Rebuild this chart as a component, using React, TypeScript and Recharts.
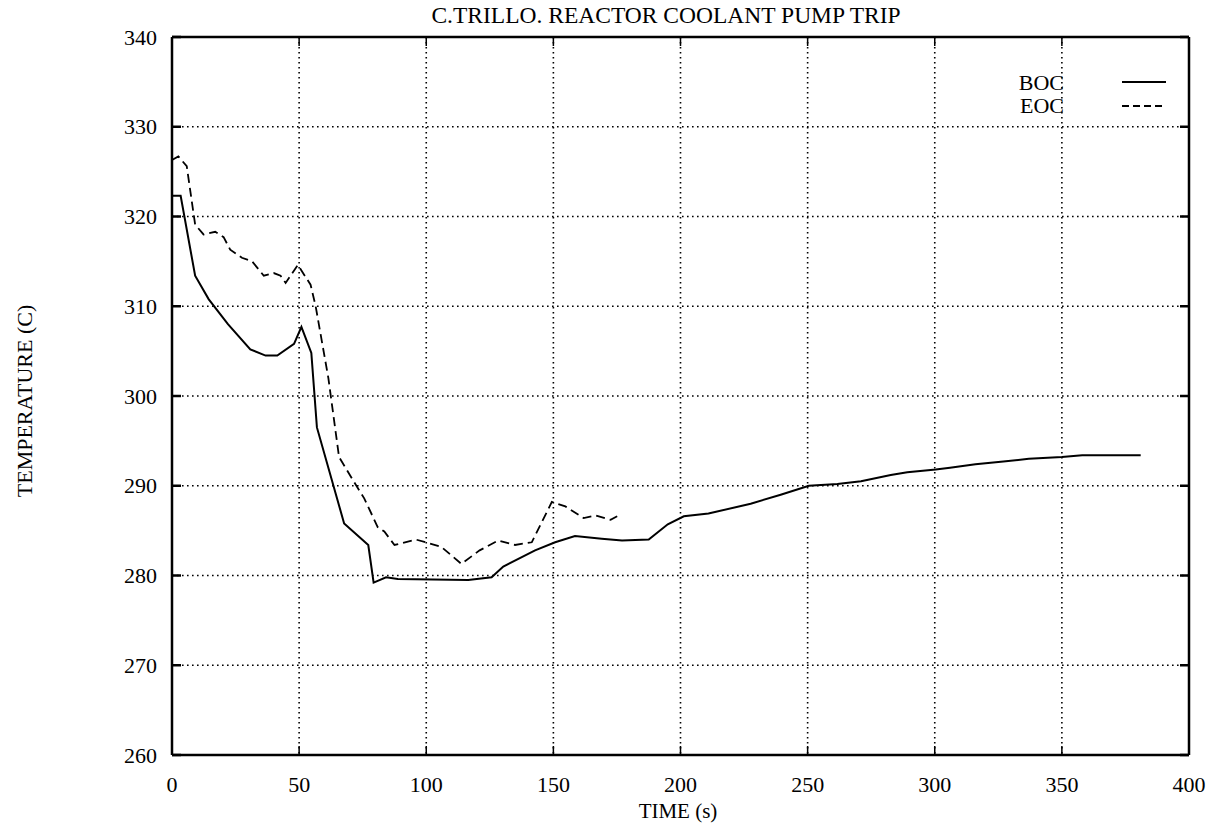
import React from 'react';
import { LineChart, Line, XAxis, YAxis, CartesianGrid } from 'recharts';

const bocTime = [0, 3.4, 9.1, 14.4, 22, 30.8, 36.8, 41.4, 48, 50.9, 54.8, 57, 67.7, 77.2, 79.3, 84.2, 88.8, 116.5, 125.7, 130.3, 142.8, 150.7, 158.5, 169, 177, 187.5, 195, 201.3, 211, 227.6, 239.4, 250.5, 261.7, 271, 282.7, 289.2, 300.4, 306, 316, 327, 337, 350, 358, 381];
const bocTemp = [322.3, 322.3, 313.4, 310.8, 308, 305.2, 304.5, 304.5, 305.8, 307.7, 304.8, 296.5, 285.8, 283.4, 279.2, 279.8, 279.6, 279.5, 279.8, 281.0, 282.8, 283.7, 284.4, 284.1, 283.9, 284.0, 285.7, 286.6, 286.9, 288.0, 289.0, 290.0, 290.2, 290.5, 291.2, 291.5, 291.8, 292.0, 292.4, 292.7, 293.0, 293.2, 293.4, 293.4];

const eocTime = [0, 2.5, 5.8, 9.1, 12.4, 17, 20.3, 22.9, 27.5, 31.5, 36.1, 40, 42.7, 44.7, 49.5, 54.5, 56.5, 61.5, 65.7, 71, 75.6, 80.9, 83.5, 87.5, 96, 105.9, 113.8, 121, 128.3, 134.9, 141.5, 149.4, 154.7, 161.9, 166.5, 172.5, 175.1];
const eocTemp = [326.3, 326.7, 325.6, 319.1, 318.0, 318.3, 317.7, 316.3, 315.4, 315.0, 313.4, 313.7, 313.4, 312.6, 314.6, 312.4, 310.0, 302.0, 293.2, 290.7, 288.6, 285.4, 284.9, 283.4, 284.0, 283.2, 281.3, 282.8, 283.9, 283.4, 283.7, 288.2, 287.7, 286.4, 286.7, 286.2, 286.6];

const xTicks = [0, 50, 100, 150, 200, 250, 300, 350, 400];
const yTicks = [260, 270, 280, 290, 300, 310, 320, 330, 340];

const seriesNames = ['BOC', 'EOC'];
const titleText = 'C.TRILLO. REACTOR COOLANT PUMP TRIP';
const xLabel = 'TIME (s)';
const yLabel = 'TEMPERATURE (C)';

const bocData = bocTime.map((t, i) => ({ time: t, temp: bocTemp[i] }));
const eocData = eocTime.map((t, i) => ({ time: t, temp: eocTemp[i] }));

const FONT = '"Liberation Serif", "Times New Roman", serif';
const TICK_FS = 22;

const LeftTick = (props: any) => {
  const { x, y, payload } = props;
  return (
    <g>
      <line x1={x} x2={x + 9} y1={y} y2={y} stroke="#000" strokeWidth={2.5} />
      <text x={x - 15} y={y} textAnchor="end" dominantBaseline="central" fontFamily={FONT} fontSize={TICK_FS} fill="#000">
        {payload.value}
      </text>
    </g>
  );
};

const RightTick = (props: any) => {
  const { x, y } = props;
  return <line x1={x} x2={x - 9} y1={y} y2={y} stroke="#000" strokeWidth={2.5} />;
};

const BottomTick = (props: any) => {
  const { x, y, payload } = props;
  return (
    <g>
      <line x1={x} x2={x} y1={y} y2={y - 9} stroke="#000" strokeWidth={1.5} />
      <text x={x} y={y + 29} textAnchor="middle" dominantBaseline="central" fontFamily={FONT} fontSize={TICK_FS} fill="#000">
        {payload.value}
      </text>
    </g>
  );
};

const TopTick = (props: any) => {
  const { x, y } = props;
  return <line x1={x} x2={x} y1={y} y2={y + 9} stroke="#000" strokeWidth={1.5} />;
};

export default function App() {
  return (
    <div style={{ position: 'absolute', left: 0, top: 0, width: 1221, height: 829, background: '#fff' }}>
      <LineChart width={1221} height={829} margin={{ top: 0, right: 0, bottom: 0, left: 0 }}>
        <CartesianGrid xAxisId="bottom" yAxisId="left" stroke="#000" strokeWidth={1.6} strokeDasharray="1.6 3.4" />
        <XAxis
          xAxisId="bottom"
          type="number"
          dataKey="time"
          domain={[0, 400]}
          ticks={xTicks}
          height={74}
          axisLine={{ stroke: '#000', strokeWidth: 2.5 }}
          tickLine={false}
          tickSize={0}
          tickMargin={0}
          tick={<BottomTick />}
          allowDataOverflow
        />
        <XAxis
          xAxisId="top"
          orientation="top"
          type="number"
          dataKey="time"
          domain={[0, 400]}
          ticks={xTicks}
          height={37}
          axisLine={{ stroke: '#000', strokeWidth: 2.5 }}
          tickLine={false}
          tickSize={0}
          tickMargin={0}
          tick={<TopTick />}
          allowDataOverflow
        />
        <YAxis
          yAxisId="left"
          type="number"
          domain={[260, 340]}
          ticks={yTicks}
          width={172}
          axisLine={{ stroke: '#000', strokeWidth: 2.5 }}
          tickLine={false}
          tickSize={0}
          tickMargin={0}
          tick={<LeftTick />}
          allowDataOverflow
        />
        <YAxis
          yAxisId="right"
          orientation="right"
          type="number"
          domain={[260, 340]}
          ticks={yTicks}
          width={32}
          axisLine={{ stroke: '#000', strokeWidth: 2.5 }}
          tickLine={false}
          tickSize={0}
          tickMargin={0}
          tick={<RightTick />}
          allowDataOverflow
        />
        <Line
          xAxisId="bottom"
          yAxisId="left"
          data={bocData}
          dataKey="temp"
          name={seriesNames[0]}
          type="linear"
          stroke="#000"
          strokeWidth={2}
          dot={false}
          activeDot={false}
          isAnimationActive={false}
        />
        <Line
          xAxisId="bottom"
          yAxisId="left"
          data={eocData}
          dataKey="temp"
          name={seriesNames[1]}
          type="linear"
          stroke="#000"
          strokeWidth={1.8}
          strokeDasharray="9 5"
          dot={false}
          activeDot={false}
          isAnimationActive={false}
        />
      </LineChart>
      <svg width={1221} height={829} style={{ position: 'absolute', left: 0, top: 0, pointerEvents: 'none' }}>
        <text x={666} y={15} textAnchor="middle" dominantBaseline="central" fontFamily={FONT} fontSize={23.5} fill="#000">
          {titleText}
        </text>
        <text x={678} y={811} textAnchor="middle" dominantBaseline="central" fontFamily={FONT} fontSize={21} fill="#000">
          {xLabel}
        </text>
        <text
          x={24}
          y={401}
          textAnchor="middle"
          dominantBaseline="central"
          fontFamily={FONT}
          fontSize={22}
          fill="#000"
          transform="rotate(-90 24 401)"
        >
          {yLabel}
        </text>
        <text x={1064} y={82} textAnchor="end" dominantBaseline="central" fontFamily={FONT} fontSize={22} fill="#000">
          {seriesNames[0]}
        </text>
        <line x1={1122} x2={1166} y1={82} y2={82} stroke="#000" strokeWidth={2} />
        <text x={1064} y={105} textAnchor="end" dominantBaseline="central" fontFamily={FONT} fontSize={22} fill="#000">
          {seriesNames[1]}
        </text>
        <line x1={1122} x2={1166} y1={106} y2={106} stroke="#000" strokeWidth={1.8} strokeDasharray="7 4" />
      </svg>
    </div>
  );
}
